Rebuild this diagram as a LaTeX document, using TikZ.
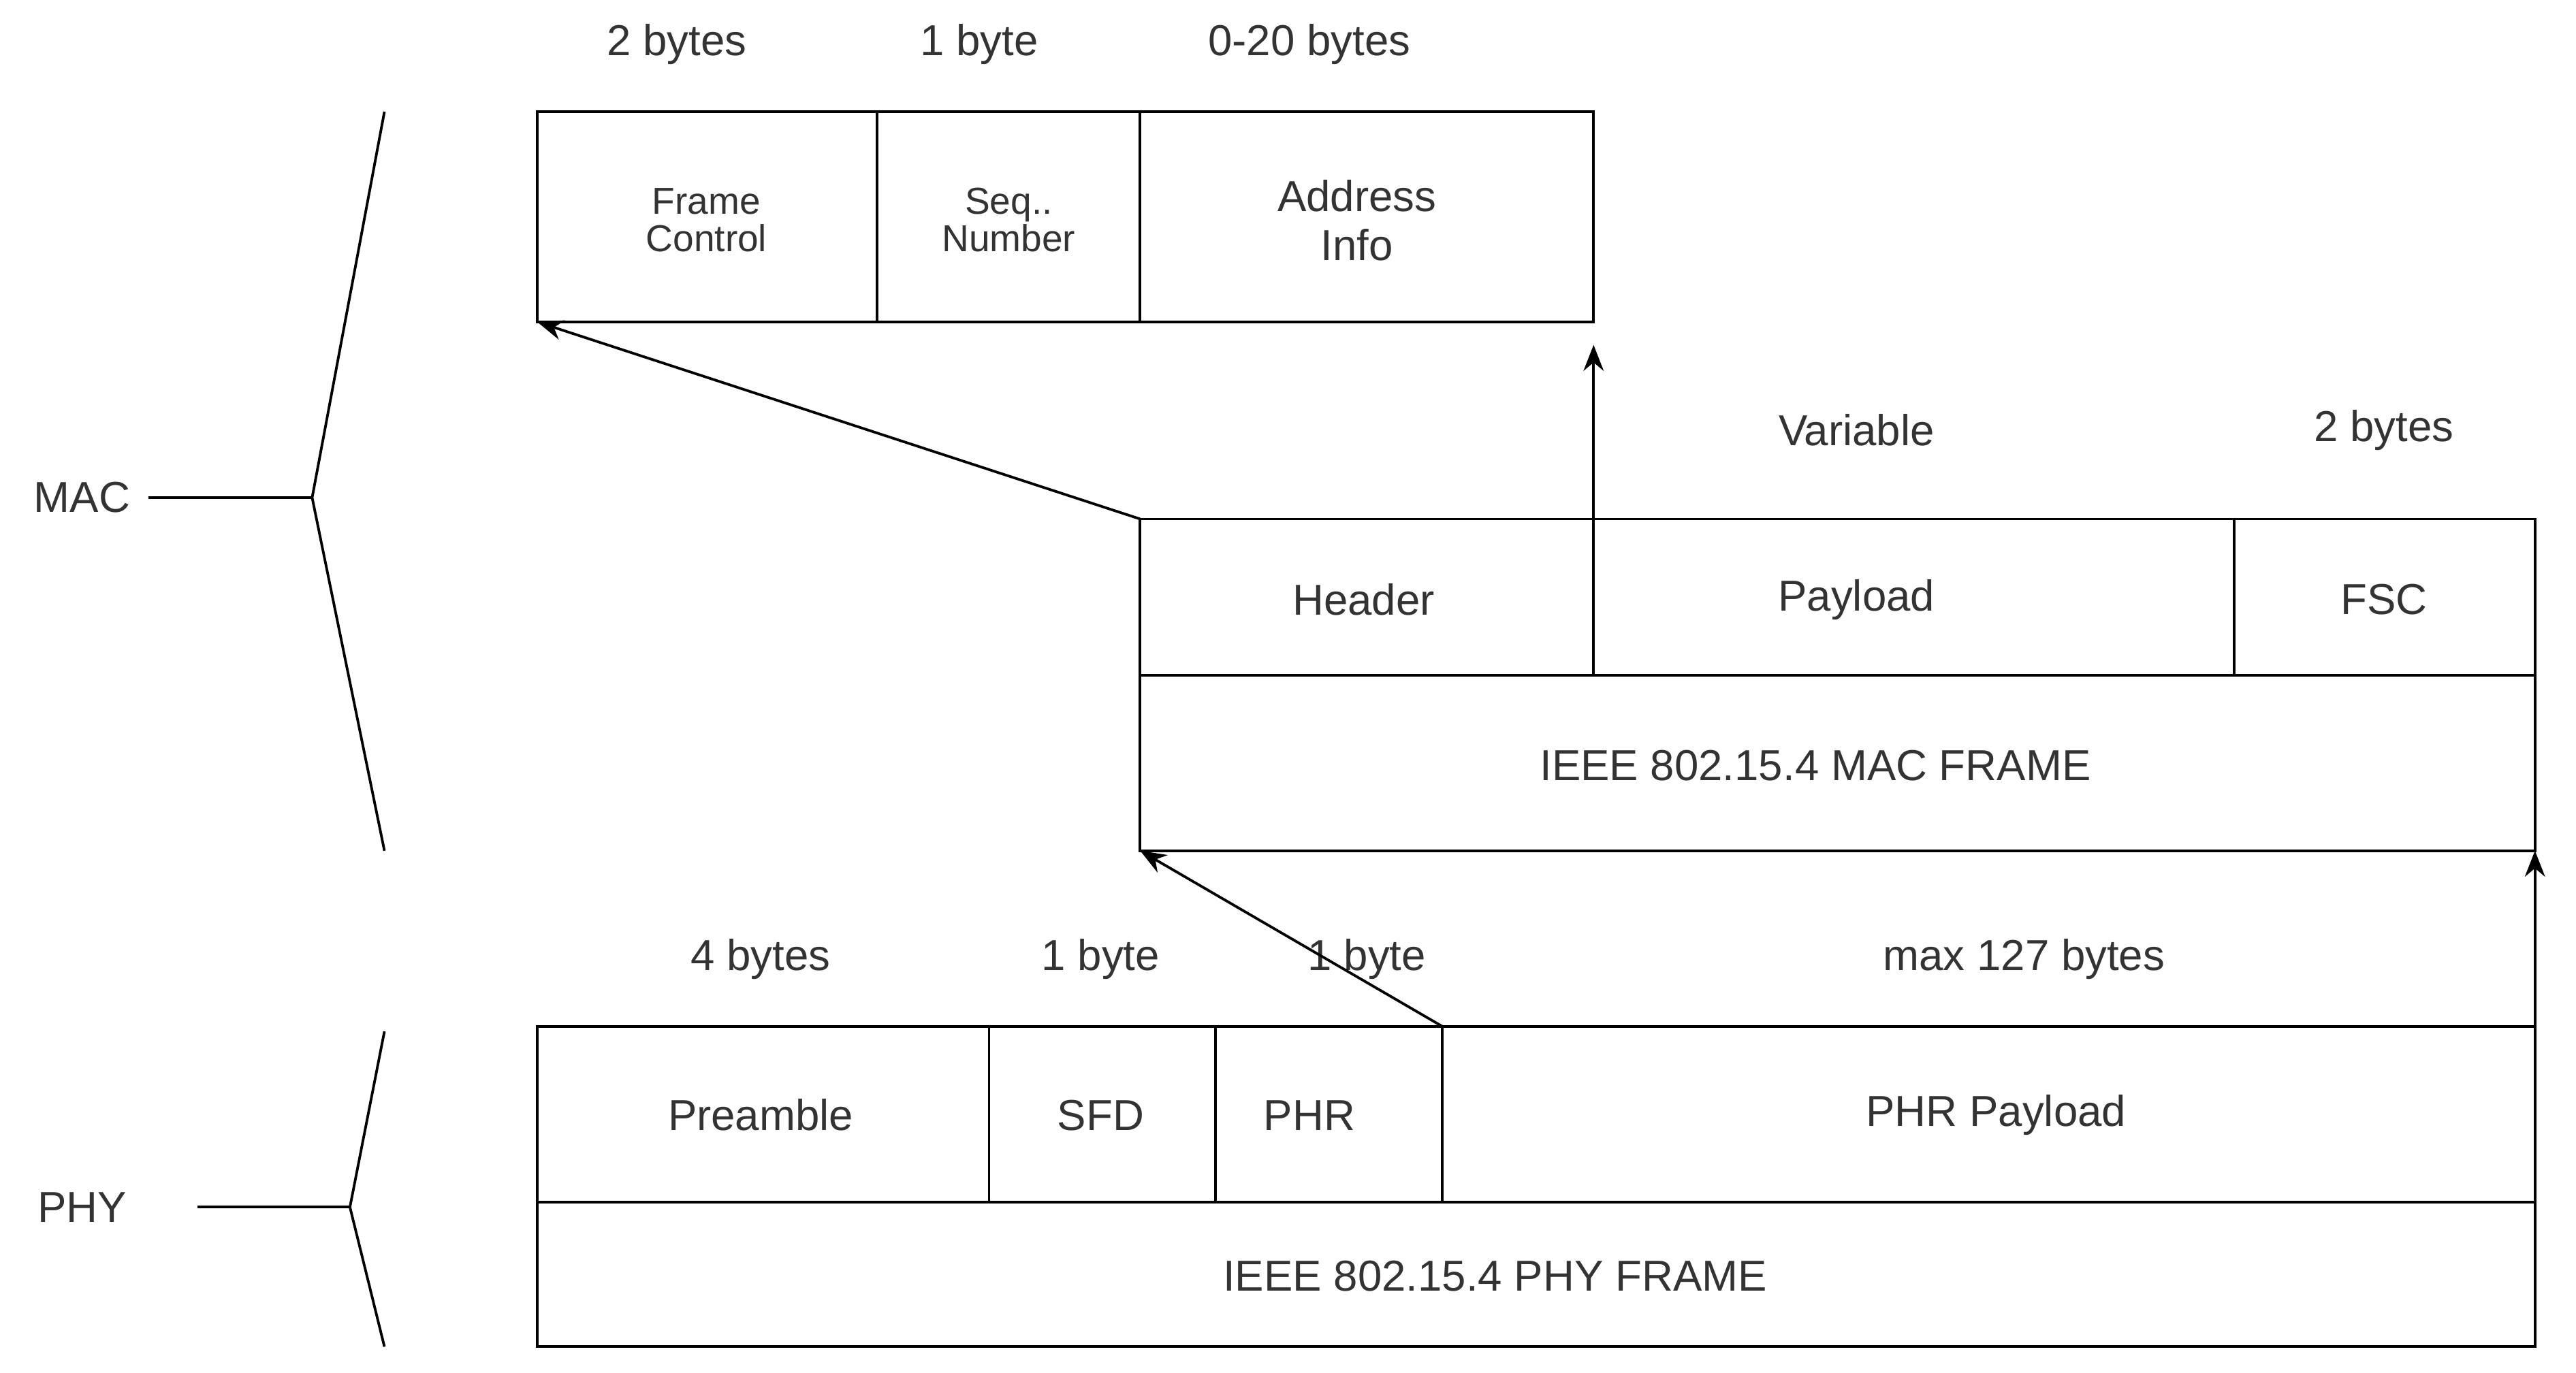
\documentclass[tikz,border=0pt]{standalone}
\usepackage{fontspec}
\setmainfont{Liberation Sans}
\usetikzlibrary{arrows.meta}
\tikzset{l/.style={font=\fontsize{15}{15}\selectfont, color=black!80}}
\tikzset{m/.style={font=\fontsize{13}{13}\selectfont, color=black!80, align=center}}
\tikzset{box/.style={draw, line width=0.9pt}}
\tikzset{link/.style={-{Stealth[length=9pt,width=7pt]}, line width=0.9pt}}
\begin{document}
\begin{tikzpicture}[x=0.02cm,y=-0.02cm]
  \useasboundingbox (0,0) rectangle (1568,836);
  % MAC header fields
  \draw[box] (327,68) rectangle (970,196);
  \draw[box] (534,68) -- (534,196) (694,68) -- (694,196);
  \node[m] (fc) at (430,134) {Frame\\Control};
  \node[m] (seq) at (614,134) {Seq..\\Number};
  \node[m, font=\fontsize{15}{17}\selectfont] (addr) at (826,134) {Address\\Info};
  \node[l] (fcb) at (412,27) {2 bytes};
  \node[l] (seqb) at (596,27) {1 byte};
  \node[l] (addrb) at (797,27) {0-20 bytes};
  \coordinate (hdrTL) at (327,196);
  \coordinate (hdrBR) at (970,210);
  % MAC frame
  \draw[box] (694,316) rectangle (1543,518);
  \draw[box] (694,411) -- (1543,411);
  \draw[box] (970,316) -- (970,411) (1360,316) -- (1360,411);
  \node[l] (hdr) at (830,365) {Header};
  \node[l] (pay) at (1130,365) {Payload};
  \node[l] (fsc) at (1451,365) {FSC};
  \node[l] (macf) at (1105,466) {IEEE 802.15.4 MAC FRAME};
  \node[l] (payb) at (1130,262) {Variable};
  \node[l] (fscb) at (1451,262) {2 bytes};
  \coordinate (macTL) at (694,316);
  \coordinate (macTM) at (970,316);
  \coordinate (macBL) at (694,518);
  \coordinate (macBR) at (1543,518);
  % PHY frame
  \draw[box] (327,625) rectangle (1543,820);
  \draw[box] (327,732) -- (1543,732);
  \draw[box] (602,625) -- (602,732) (740,625) -- (740,732) (878,625) -- (878,732);
  \node[l] (pre) at (463,679) {Preamble};
  \node[l] (sfd) at (670,679) {SFD};
  \node[l] (phr) at (797,679) {PHR};
  \node[l] (phrp) at (1215,679) {PHR Payload};
  \node[l] (phyf) at (910,777) {IEEE 802.15.4 PHY FRAME};
  \node[l] (preb) at (463,584) {4 bytes};
  \node[l] (sfdb) at (670,584) {1 byte};
  \node[l] (phrb) at (832,584) {1 byte};
  \node[l] (phrpb) at (1232,584) {max 127 bytes};
  \coordinate (phyTM) at (878,625);
  \coordinate (phyTR) at (1543,625);
  % connectors
  \draw[link] (macTL) -- (hdrTL);
  \draw[link] (macTM) -- (hdrBR);
  \draw[link] (phyTM) -- (macBL);
  \draw[link] (phyTR) -- (macBR);
  % layer braces
  \node[l] (mac) at (50,303) {MAC};
  \coordinate (macTip) at (190,303);
  \draw[line width=0.9pt] (234,68) -- (macTip) -- (234,518);
  \draw[line width=0.9pt] (mac.east) ++(5,0) -- (macTip);
  \node[l] (phy) at (50,735) {PHY};
  \coordinate (phyTip) at (213,735);
  \draw[line width=0.9pt] (234,628) -- (phyTip) -- (234,820);
  \draw[line width=0.9pt] (120,735) -- (phyTip);
\end{tikzpicture}
\end{document}
